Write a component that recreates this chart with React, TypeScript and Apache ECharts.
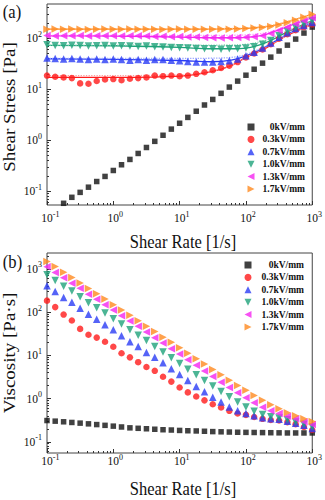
import React, { useEffect, useRef } from 'react';
import * as echarts from 'echarts';

// ---------- data ----------
const shearRate = [0.1, 0.133, 0.178, 0.237, 0.316, 0.422, 0.562, 0.75, 1, 1.33, 1.78, 2.37, 3.16, 4.22, 5.62, 7.5, 10, 13.3, 17.8, 23.7, 31.6, 42.2, 56.2, 75, 100, 133, 178, 237, 316, 422, 562, 750, 1000];

const seriesNames = ['0kV/mm', '0.3kV/mm', '0.7kV/mm', '1.0kV/mm', '1.3kV/mm', '1.7kV/mm'];

// (a) shear stress [Pa]
const stress00 = [0.032, 0.043, 0.058, 0.076, 0.095, 0.12, 0.155, 0.195, 0.255, 0.33, 0.42, 0.55, 0.72, 0.95, 1.25, 1.65, 2.15, 2.8, 3.7, 4.9, 6.3, 8.3, 11, 14.4, 18.8, 24.6, 32.4, 42.5, 56, 73, 96, 126, 165];
const stress03 = [18.5, 17.5, 17, 16.5, 13, 12.8, 14.5, 15.5, 15.8, 15, 16, 16.5, 17, 18.5, 18, 18.5, 18, 18.5, 20, 21.5, 23.5, 26, 29, 34, 42, 50, 60, 76, 98, 120, 144, 165, 187];
const stress07 = [41, 40, 39, 40, 39, 38, 39, 38, 39, 38, 37, 38, 37, 38, 38, 37, 36, 35, 34, 34, 34, 35, 36, 39, 45, 53, 64, 80, 104, 128, 154, 178, 202];
const stress10 = [74, 72, 71, 73, 72, 70, 71, 72, 70, 71, 70, 69, 70, 68, 67, 66, 65, 64, 63, 62, 62, 61, 62, 62, 64, 68, 76, 90, 112, 136, 162, 190, 220];
const stress13 = [113, 110, 112, 111, 113, 110, 112, 111, 112, 110, 111, 112, 110, 108, 109, 107, 108, 106, 105, 103, 102, 101, 102, 103, 104, 107, 112, 124, 142, 164, 190, 220, 252];
const stress17 = [150, 152, 149, 151, 150, 148, 150, 151, 149, 150, 151, 150, 149, 150, 148, 150, 151, 149, 150, 149, 150, 151, 150, 151, 155, 158, 162, 170, 182, 200, 224, 257, 295];

// model curves in (a)
const fitRate = [0.1, 1, 10, 30, 60, 100, 200, 400, 1000];
const fitSolid03 = [17, 17, 18, 22, 29, 42, 64, 110, 187];
const fitSolid07 = [39.5, 38.5, 36.5, 34.5, 37, 45, 68, 115, 202];
const fitSolid10 = [72, 71, 66, 62, 62, 64, 82, 128, 220];
const fitSolid13 = [111, 110, 105, 102, 102, 104, 118, 165, 252];
const fitSolid17 = [150, 150, 150, 151, 153, 156, 168, 205, 295];
const fitDot03 = [18.5, 18.5, 19, 22.5, 29, 42, 64, 110, 187];
const fitDot07 = [40, 40, 40, 40.5, 42, 48, 70, 117, 202];
const fitDot10 = [73, 73, 73, 73, 74, 76, 92, 135, 220];
const fitDot13 = [113, 113, 113, 113, 114, 116, 128, 170, 252];
const fitDot17 = [152, 152, 152, 153, 156, 160, 172, 210, 295];

// (b) viscosity [Pa·s]
const visc00 = [0.31, 0.30, 0.29, 0.28, 0.27, 0.26, 0.25, 0.24, 0.23, 0.22, 0.21, 0.205, 0.2, 0.195, 0.19, 0.187, 0.183, 0.18, 0.178, 0.175, 0.172, 0.17, 0.168, 0.166, 0.165, 0.164, 0.163, 0.162, 0.161, 0.16, 0.16, 0.16, 0.16];
const visc03 = [185, 131, 88, 64, 41, 30, 25.8, 20.7, 15.8, 11.2, 9.0, 6.96, 5.38, 4.39, 3.2, 2.47, 1.8, 1.39, 1.12, 0.91, 0.74, 0.62, 0.52, 0.45, 0.42, 0.375, 0.34, 0.32, 0.31, 0.285, 0.256, 0.22, 0.187];
const visc07 = [410, 300, 219, 169, 123, 90, 69, 51, 39, 28.5, 20.8, 16.0, 11.7, 9.0, 6.76, 4.93, 3.6, 2.62, 1.91, 1.43, 1.08, 0.83, 0.64, 0.52, 0.45, 0.40, 0.36, 0.34, 0.33, 0.30, 0.27, 0.24, 0.202];
const visc10 = [740, 540, 399, 308, 228, 166, 126, 96, 70, 53.2, 39.4, 29.1, 22.1, 16.1, 11.9, 8.8, 6.5, 4.8, 3.54, 2.61, 1.96, 1.45, 1.10, 0.83, 0.64, 0.51, 0.43, 0.38, 0.354, 0.322, 0.288, 0.253, 0.22];
const visc13 = [1130, 825, 630, 468, 357, 261, 199, 148, 112, 82.5, 62.4, 47.2, 34.8, 25.6, 19.4, 14.3, 10.8, 7.95, 5.9, 4.34, 3.23, 2.40, 1.81, 1.37, 1.04, 0.80, 0.63, 0.52, 0.45, 0.39, 0.34, 0.29, 0.252];
const visc17 = [1500, 1140, 838, 637, 474, 351, 267, 201, 149, 112, 85, 63, 47, 35.6, 26.3, 20, 15.1, 11.2, 8.4, 6.3, 4.74, 3.58, 2.67, 2.01, 1.55, 1.18, 0.91, 0.72, 0.58, 0.47, 0.40, 0.34, 0.295];

const xDecades = [-1, 0, 1, 2, 3];
const yDecadesA = [-1, 0, 1, 2];
const yDecadesB = [-1, 0, 1, 2, 3];

// ---------- style ----------
const FONT = '"Liberation Serif", "Times New Roman", serif';
const INK = '#111';
const colors = ['#111111', '#ff1a1a', '#2a3cf5', '#1fa37a', '#f526f0', '#ff8a1f'];
const lightColors = ['#999', '#ff9a9a', '#9aa6ff', '#8fd8b8', '#ffa0fb', '#ffc58f'];
const markers = [
  { symbol: 'rect', rotate: 0, size: 5.5 },
  { symbol: 'circle', rotate: 0, size: 6.5 },
  { symbol: 'triangle', rotate: 0, size: 7.5 },
  { symbol: 'triangle', rotate: 180, size: 7.5 },
  { symbol: 'triangle', rotate: 90, size: 7.5 },
  { symbol: 'triangle', rotate: -90, size: 7.5 },
];
const legendIcons = [
  'path://M1,1 L9,1 L9,9 L1,9 Z',
  'circle',
  'path://M5,0 L10,10 L0,10 Z',
  'path://M0,0 L10,0 L5,10 Z',
  'path://M10,0 L10,10 L0,5 Z',
  'path://M0,0 L0,10 L10,5 Z',
];

const lg = (v: number) => Math.log10(v);

function minorTicks(lo: number, hi: number) {
  const out: number[] = [];
  for (let n = -3; n <= 4; n++) {
    for (let m = 2; m <= 9; m++) {
      const v = Math.log10(m) + n;
      if (v > lo && v < hi) out.push(v);
    }
  }
  return out;
}

const richLabel = {
  b: { fontSize: 11.5, fontFamily: FONT, color: INK, lineHeight: 16 },
  s: { fontSize: 8, fontFamily: FONT, color: INK, lineHeight: 8, verticalAlign: 'top' },
  h: { fontSize: 8, fontFamily: FONT, color: 'rgba(0,0,0,0)', lineHeight: 8, verticalAlign: 'top' },
};

const noLine = { show: false, onZero: false };

function mainX(gridIndex: number, margin: number) {
  return {
    type: 'value', gridIndex, min: -1, max: 3, position: 'bottom',
    axisLine: noLine, splitLine: { show: false },
    axisTick: { inside: true, length: 4, lineStyle: { color: '#333' }, customValues: xDecades },
    axisLabel: {
      customValues: xDecades, margin,
      formatter: (v: number) => { const e = String(Math.round(v)); return `{h|${e}}{b|10}{s|${e}}`; },
      rich: richLabel,
    },
  };
}
function minorX(gridIndex: number) {
  return {
    type: 'value', gridIndex, min: -1, max: 3, position: 'bottom', offset: 0,
    axisLine: noLine, splitLine: { show: false }, axisLabel: { show: false },
    axisTick: { inside: true, length: 2, lineStyle: { color: '#333' }, customValues: minorTicks(-1, 3) },
  };
}
function mainY(gridIndex: number, min: number, max: number, decades: number[]) {
  return {
    type: 'value', gridIndex, min, max, position: 'left',
    axisLine: noLine, splitLine: { show: false },
    axisTick: { inside: true, length: 4, lineStyle: { color: '#333' }, customValues: decades },
    axisLabel: {
      customValues: decades, margin: 5,
      formatter: (v: number) => `{b|10}{s|${Math.round(v)}}`,
      rich: richLabel,
    },
  };
}
function minorY(gridIndex: number, min: number, max: number) {
  return {
    type: 'value', gridIndex, min, max, position: 'left', offset: 0,
    axisLine: noLine, splitLine: { show: false }, axisLabel: { show: false },
    axisTick: { inside: true, length: 2, lineStyle: { color: '#333' }, customValues: minorTicks(min, max) },
  };
}

function scatter(name: string, i: number, values: number[], axisIndex: number) {
  return {
    type: 'scatter', name, xAxisIndex: axisIndex, yAxisIndex: axisIndex, z: 3,
    symbol: markers[i].symbol, symbolRotate: markers[i].rotate, symbolSize: markers[i].size,
    itemStyle: { color: colors[i] },
    data: shearRate.map((x, k) => [lg(x), lg(values[k])]),
  };
}
function fitLine(id: string, i: number, values: number[], dotted: boolean) {
  return {
    type: 'line', name: id, xAxisIndex: 0, yAxisIndex: 0, z: dotted ? 2 : 1,
    smooth: 0.35, symbol: 'none', showSymbol: false,
    lineStyle: { color: dotted ? lightColors[i] : colors[i], width: 1.3, type: dotted ? 'dotted' : 'solid' },
    data: fitRate.map((x, k) => [lg(x), lg(values[k])]),
  };
}

function legendFor(left: number, top: number, width: number) {
  return {
    data: seriesNames.map((n, i) => ({ name: n, icon: legendIcons[i] })),
    orient: 'vertical', left, top, padding: 0,
    itemWidth: 7, itemHeight: 7, itemGap: 0, selectedMode: false,
    formatter: (n: string) => `{r|${n}}`,
    textStyle: {
      lineHeight: 12.4,
      rich: { r: { width, align: 'right', fontSize: 9.5, fontWeight: 'bold', fontFamily: FONT, color: INK, lineHeight: 12.4 } },
    },
  };
}

const titleStyle = (text: string) => ({ text, fontSize: 19, fontFamily: FONT, fill: INK, align: 'center', verticalAlign: 'middle' });

export default function App() {
  const ref = useRef<HTMLDivElement>(null);
  useEffect(() => {
    if (!ref.current) return;
    const chart = echarts.init(ref.current, null, { renderer: 'svg' });
    const stressA = [stress00, stress03, stress07, stress10, stress13, stress17];
    const viscB = [visc00, visc03, visc07, visc10, visc13, visc17];
    const solids = [null, fitSolid03, fitSolid07, fitSolid10, fitSolid13, fitSolid17];
    const dots = [null, fitDot03, fitDot07, fitDot10, fitDot13, fitDot17];
    const series: any[] = [];
    for (let i = 1; i < 6; i++) {
      series.push(fitLine('fitS' + i, i, solids[i] as number[], false));
      series.push(fitLine('fitD' + i, i, dots[i] as number[], true));
    }
    seriesNames.forEach((n, i) => series.push(scatter(n, i, stressA[i], 0)));
    seriesNames.forEach((n, i) => series.push(scatter(n, i, viscB[i], 2)));

    chart.setOption({
      animation: false,
      backgroundColor: '#fff',
      grid: [
        { left: 47, top: 4, width: 269, height: 201, show: true, borderColor: '#444', borderWidth: 1, backgroundColor: 'transparent' },
        { left: 47, top: 253, width: 269, height: 200, show: true, borderColor: '#444', borderWidth: 1, backgroundColor: 'transparent' },
      ],
      xAxis: [mainX(0, 5), minorX(0), mainX(1, 0), minorX(1)],
      yAxis: [mainY(0, -1.27, 2.67, yDecadesA), minorY(0, -1.27, 2.67), mainY(1, -1.26, 3.37, yDecadesB), minorY(1, -1.26, 3.37)],
      legend: [legendFor(247.5, 120.8, 45.5), legendFor(244.5, 258.8, 47.5)],
      graphic: [
        { type: 'text', x: 12, y: 11.5, scaleX: 0.87, style: titleStyle('(a)') },
        { type: 'text', x: 12.5, y: 261.5, scaleX: 0.87, style: titleStyle('(b)') },
        { type: 'text', x: 9, y: 107, rotation: Math.PI / 2, scaleY: 0.87, style: titleStyle('Shear Stress [Pa]') },
        { type: 'text', x: 9, y: 353, rotation: Math.PI / 2, scaleY: 0.87, style: titleStyle('Viscosity [Pa·s]') },
        { type: 'text', x: 183, y: 241.5, scaleX: 0.87, style: titleStyle('Shear Rate [1/s]') },
        { type: 'text', x: 183, y: 488.5, scaleX: 0.87, style: titleStyle('Shear Rate [1/s]') },
      ],
      series,
    });
    return () => chart.dispose();
  }, []);
  return <div ref={ref} style={{ position: 'fixed', left: 0, top: 0, width: 325, height: 500 }} />;
}
